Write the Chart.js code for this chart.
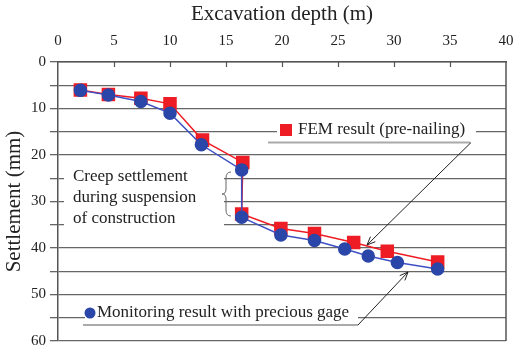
<!DOCTYPE html>
<html>
<head>
<meta charset="utf-8">
<script src="https://cdn.jsdelivr.net/npm/chart.js@4/dist/chart.umd.min.js"></script>
<style>
  html, body { margin: 0; padding: 0; background: #fff; }
  canvas { display: block; }
</style>
</head>
<body>
<canvas id="grafico" width="516" height="353"></canvas>
<script>
// Datos
const xTicks = [0, 5, 10, 15, 20, 25, 30, 35, 40];
const yGrid = [0, 5, 10, 15, 20, 25, 30, 35, 40, 45, 50, 55, 60];
const yTicks = [0, 10, 20, 30, 40, 50, 60];

const depthMon = [2.0, 4.5, 7.4, 10.0, 12.8, 16.4, 16.4, 19.9, 22.9, 25.6, 27.7, 30.3, 33.9];
const settleMon = [6.1, 7.1, 8.5, 11.0, 17.8, 23.2, 33.4, 37.2, 38.4, 40.2, 41.7, 43.1, 44.5];
const depthFem = [2.0, 4.5, 7.4, 10.0, 12.9, 16.5, 16.4, 19.9, 22.9, 26.4, 29.4, 33.9];
const settleFem = [6.0, 7.0, 7.8, 9.0, 16.8, 21.6, 32.7, 35.8, 36.9, 38.8, 40.7, 43.0];

const FUENTE = 'Liberation Serif, Times New Roman, serif';
const AZUL = '#2a46a8';
const ROJO = '#ee1c24';

function puntos(xs, ys) {
    return xs.map((x, i) => ({ x: x, y: ys[i] }));
}

function flecha(ctx, x1, y1, x2, y2) {
    ctx.beginPath();
    ctx.moveTo(x1, y1);
    ctx.lineTo(x2, y2);
    ctx.stroke();
    const ang = Math.atan2(y2 - y1, x2 - x1);
    const L = 9;
    ctx.beginPath();
    ctx.moveTo(x2 - L * Math.cos(ang - 0.4), y2 - L * Math.sin(ang - 0.4));
    ctx.lineTo(x2, y2);
    ctx.lineTo(x2 - L * Math.cos(ang + 0.4), y2 - L * Math.sin(ang + 0.4));
    ctx.stroke();
}

// Anotaciones, marcas interiores y marco derecho
const anotaciones = {
    id: 'anotaciones',
    beforeDatasetsDraw(chart) {
        const ctx = chart.ctx;
        const a = chart.chartArea;
        const sx = chart.scales.x;
        ctx.save();
        // marcas hacia dentro en el eje superior
        ctx.strokeStyle = '#555';
        ctx.lineWidth = 1.2;
        xTicks.slice(1, -1).forEach(v => {
            const px = Math.round(sx.getPixelForValue(v)) + 0.5;
            ctx.beginPath();
            ctx.moveTo(px, a.top);
            ctx.lineTo(px, a.top + 5);
            ctx.stroke();
        });
        // cajas blancas bajo los textos
        ctx.fillStyle = '#fff';
        ctx.fillRect(64, 164, 160, 66);
        ctx.fillRect(277, 121, 199, 19);
        ctx.fillRect(85, 304, 273, 19);
        // marco derecho
        ctx.strokeStyle = '#555';
        ctx.lineWidth = 1.5;
        ctx.beginPath();
        ctx.moveTo(a.right, a.top);
        ctx.lineTo(a.right, a.bottom);
        ctx.stroke();
        ctx.restore();
    },
    afterDatasetsDraw(chart) {
        const ctx = chart.ctx;
        ctx.save();
        ctx.font = '17px ' + FUENTE;
        ctx.fillStyle = '#222';
        ctx.textBaseline = 'middle';
        ctx.textAlign = 'left';

        // Texto de asentamiento por fluencia
        ctx.fillText('Creep settlement', 73, 177);
        ctx.fillText('during suspension', 73, 198);
        ctx.fillText('of construction', 73, 219);

        // llave
        ctx.strokeStyle = '#666';
        ctx.lineWidth = 1;
        ctx.beginPath();
        ctx.moveTo(231, 172);
        ctx.quadraticCurveTo(226, 172, 226, 178);
        ctx.lineTo(226, 189);
        ctx.quadraticCurveTo(226, 194, 222, 194);
        ctx.quadraticCurveTo(226, 194, 226, 199);
        ctx.lineTo(226, 210);
        ctx.quadraticCurveTo(226, 216, 231, 216);
        ctx.stroke();

        // Leyenda FEM
        ctx.fillStyle = ROJO;
        ctx.fillRect(280, 124, 12, 12);
        ctx.fillStyle = '#222';
        ctx.fillText('FEM result (pre-nailing)', 298, 130);
        ctx.strokeStyle = '#aaa';
        ctx.lineWidth = 2;
        ctx.beginPath();
        ctx.moveTo(268, 142.5);
        ctx.lineTo(470, 142.5);
        ctx.stroke();

        // Leyenda monitoreo
        ctx.fillStyle = AZUL;
        ctx.beginPath();
        ctx.arc(90, 313, 5.5, 0, Math.PI * 2);
        ctx.fill();
        ctx.fillStyle = '#222';
        ctx.fillText('Monitoring result with precious gage', 97, 313);
        ctx.strokeStyle = '#aaa';
        ctx.lineWidth = 2;
        ctx.beginPath();
        ctx.moveTo(83, 325);
        ctx.lineTo(358, 325);
        ctx.stroke();

        // Flechas
        ctx.strokeStyle = '#222';
        ctx.lineWidth = 1;
        flecha(ctx, 471, 142.5, 367, 245);
        flecha(ctx, 358, 325, 408, 272);
        ctx.restore();
    }
};

new Chart(document.getElementById('grafico'), {
    type: 'scatter',
    data: {
        datasets: [
            {
                label: 'Monitoring result with precious gage',
                data: puntos(depthMon, settleMon),
                showLine: true,
                borderColor: '#3d4fc4',
                backgroundColor: AZUL,
                pointBorderColor: AZUL,
                pointStyle: 'circle',
                pointRadius: 6,
                borderWidth: 1.5,
                order: 0
            },
            {
                label: 'FEM result (pre-nailing)',
                data: puntos(depthFem, settleFem),
                showLine: true,
                borderColor: ROJO,
                backgroundColor: ROJO,
                pointBorderColor: ROJO,
                pointStyle: 'rect',
                pointRadius: 8.5,
                borderWidth: 1.5,
                order: 1
            }
        ]
    },
    options: {
        responsive: false,
        animation: false,
        layout: { padding: { left: 0, right: 9, top: 0, bottom: 12 } },
        plugins: {
            legend: { display: false },
            tooltip: { enabled: false }
        },
        scales: {
            x: {
                type: 'linear',
                position: 'top',
                min: 0,
                max: 40,
                afterBuildTicks: s => { s.ticks = xTicks.map(v => ({ value: v })); },
                afterFit: s => { s.height = 62; s.paddingLeft = 0; s.paddingRight = 0; },
                ticks: {
                    font: { family: FUENTE, size: 15 },
                    color: '#222',
                    padding: 12
                },
                grid: { display: true, drawOnChartArea: false, drawTicks: false },
                border: { display: true, color: '#555', width: 1.5 },
                title: {
                    display: true,
                    text: 'Excavation depth (m)',
                    font: { family: FUENTE, size: 21 },
                    color: '#222',
                    padding: { top: 2, bottom: 0 }
                }
            },
            y: {
                type: 'linear',
                reverse: true,
                min: 0,
                max: 60,
                afterBuildTicks: s => { s.ticks = yGrid.map(v => ({ value: v })); },
                afterFit: s => { s.width = 58; s.paddingTop = 0; s.paddingBottom = 0; },
                ticks: {
                    font: { family: FUENTE, size: 15 },
                    color: '#222',
                    padding: 4,
                    callback: v => yTicks.includes(v) ? String(v) : ''
                },
                grid: { color: '#666', lineWidth: 1.3, tickLength: 8 },
                border: { display: true, color: '#555', width: 1.5 },
                title: {
                    display: true,
                    text: 'Settlement (mm)',
                    font: { family: FUENTE, size: 21 },
                    color: '#222',
                    padding: { top: 2, bottom: 0 }
                }
            }
        }
    },
    plugins: [anotaciones]
});
</script>
</body>
</html>
